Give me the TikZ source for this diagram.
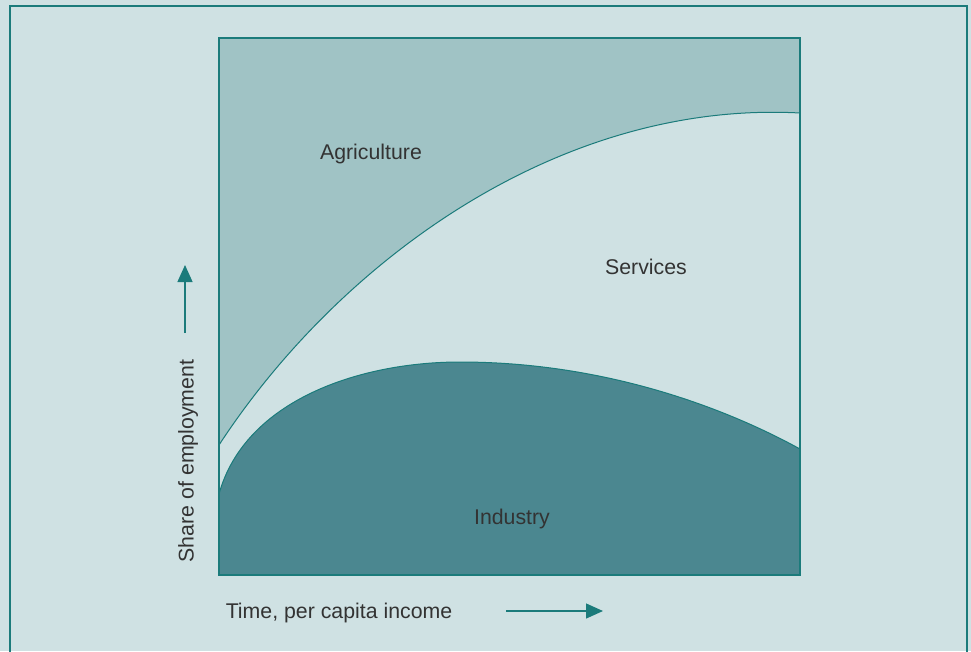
\documentclass[tikz,border=0pt]{standalone}
\usepackage{fontspec}
\setmainfont{Liberation Sans}
\usetikzlibrary{arrows.meta}
\definecolor{bg}{HTML}{CFE1E3}
\definecolor{agri}{HTML}{A0C3C5}
\definecolor{indu}{HTML}{4B8790}
\definecolor{teal}{HTML}{1B7B7B}
\definecolor{txt}{HTML}{333333}
\tikzset{
  lbl/.style={font=\fontsize{21.3}{25}\selectfont, text=txt, inner sep=0pt},
  curve/.style={draw=teal, line width=1pt},
  frame/.style={draw=teal, line width=1.5pt},
  axarrow/.style={draw=teal, line width=1.3pt, -{Triangle[length=17pt,width=15pt]}}
}
\begin{document}
\begin{tikzpicture}[x=1pt,y=-1pt]
\useasboundingbox (0,0) rectangle (971,651);
\fill[bg] (0,0) rectangle (971,651);
\draw[teal, line width=1.3pt] (10,652) -- (10,6) -- (967,6) -- (967,652);
% plot corners
\coordinate (tl) at (219,38);
\coordinate (tr) at (800,38);
\coordinate (bl) at (219,575);
\coordinate (br) at (800,575);
\coordinate (a0) at (219,445);
\coordinate (a1) at (800,113);
\coordinate (i0) at (219,494);
\coordinate (im) at (460,362);
\coordinate (i1) at (800,449);
% regions
\fill[agri] (tl) -- (tr) -- (a1) .. controls (560,100) and (340,260) .. (a0) -- cycle;
\fill[indu] (bl) -- (i0) .. controls (245,400) and (360,362) .. (im) .. controls (600,362) and (720,405) .. (i1) -- (br) -- cycle;
\draw[curve] (a0) .. controls (340,260) and (560,100) .. (a1);
\draw[curve] (i0) .. controls (245,400) and (360,362) .. (im) .. controls (600,362) and (720,405) .. (i1);
\draw[frame] (tl) rectangle (br);
% labels
\node[lbl] (agl) at (371,154) {Agriculture};
\node[lbl] (sel) at (646,267) {Services};
\node[lbl] (inl) at (512,519) {Industry};
\node[lbl, rotate=90] (yl) at (188,461) {Share of employment};
\node[lbl] (xl) at (339,613) {Time, per capita income};
% arrows
\coordinate (ya) at (185,333);
\coordinate (yb) at (185,265);
\coordinate (xa) at (506,611);
\coordinate (xb) at (603,611);
\draw[axarrow] (ya) -- (yb);
\draw[axarrow] (xa) -- (xb);
\end{tikzpicture}
\end{document}
